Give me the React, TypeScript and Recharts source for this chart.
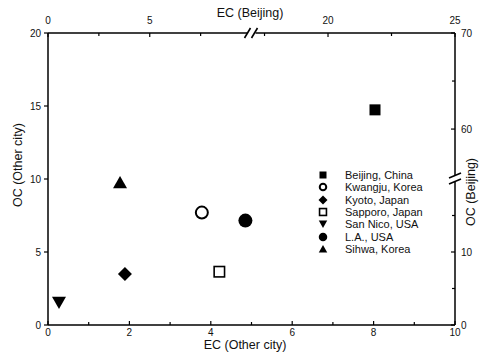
import React from 'react';
import { ScatterChart, Scatter, XAxis, YAxis, Legend, ReferenceDot } from 'recharts';

const FONT = '"Liberation Sans", Arial, sans-serif';

// other cities, read on the bottom / left axes
const cities = ['Kwangju, Korea', 'Kyoto, Japan', 'Sapporo, Japan', 'San Nico, USA', 'L.A., USA', 'Sihwa, Korea'];
const ecOther = [3.78, 1.89, 4.21, 0.27, 4.85, 1.77];
const ocOther = [7.7, 3.5, 3.65, 1.55, 7.15, 9.75];
const cityMarkers = ['openCircle', 'diamond', 'openSquare', 'triangleDown', 'circle', 'triangle'];

// Beijing, read on the top / right (broken) axes
const beijingName = 'Beijing, China';
const ecBeijing = [21.85];
const ocBeijing = [62.0];

const bottomTicks = [0, 1, 2, 3, 4, 5, 6, 7, 8, 9, 10];
const leftTicks = [0, 5, 10, 15, 20];
const topTicks = [0, 2.5, 5, 7.5, 17.5, 20, 22.5, 25];
const topLabels = ['0', '', '5', '', '', '20', '', '25'];
const rightTicks = [0, 5, 10, 15, 60, 65, 70];
const rightLabels = ['0', '', '10', '', '60', '', '70'];

// the Beijing axes are broken: each side of the break has its own scale
const topToPlot = (b: number) => (b <= 10 ? b / 2 : 10 - (25 - b) * 0.624);
const rightToPlot = (r: number) => (r <= 20 ? r / 2 : 20 - (70 - r) * 0.658);

function Marker({ kind, cx, cy, s }: { kind: string; cx: number; cy: number; s: number }) {
  const h = s / 2;
  switch (kind) {
    case 'square':
      return <rect x={cx - h} y={cy - h} width={s} height={s} fill="#000" />;
    case 'openSquare':
      return <rect x={cx - h + 0.8} y={cy - h + 0.8} width={s - 1.6} height={s - 1.6} fill="#fff" stroke="#000" strokeWidth={1.6} />;
    case 'circle':
      return <circle cx={cx} cy={cy} r={h} fill="#000" />;
    case 'openCircle':
      return <circle cx={cx} cy={cy} r={h - 1} fill="#fff" stroke="#000" strokeWidth={2} />;
    case 'diamond':
      return <polygon points={`${cx},${cy - h} ${cx + h},${cy} ${cx},${cy + h} ${cx - h},${cy}`} fill="#000" />;
    case 'triangle':
      return <polygon points={`${cx},${cy - h * 0.95} ${cx + h},${cy + h * 0.8} ${cx - h},${cy + h * 0.8}`} fill="#000" />;
    case 'triangleDown':
      return <polygon points={`${cx},${cy + h * 0.95} ${cx + h},${cy - h * 0.8} ${cx - h},${cy - h * 0.8}`} fill="#000" />;
    default:
      return null;
  }
}

const tickText = { fontFamily: FONT, fontSize: 10, fill: '#111' };
const titleText = { fontFamily: FONT, fontSize: 12.5, fill: '#111' };

function BottomTick({ x, y, payload }: any) {
  const major = payload.value % 2 === 0;
  return (
    <g>
      <line x1={x} x2={x} y1={y} y2={y - (major ? 4 : 3)} stroke="#000" strokeWidth={1.2} />
      {major && (
        <text x={x} y={y + 11} textAnchor="middle" {...tickText}>
          {payload.value}
        </text>
      )}
    </g>
  );
}

function LeftTick({ x, y, payload }: any) {
  return (
    <g>
      <line x1={x - 4} x2={x} y1={y} y2={y} stroke="#000" strokeWidth={1.2} />
      <text x={x - 7} y={y} dy="0.35em" textAnchor="end" {...tickText}>
        {payload.value}
      </text>
    </g>
  );
}

function TopTick({ x, y, index }: any) {
  const label = topLabels[index];
  return (
    <g>
      <line x1={x} x2={x} y1={y} y2={y + (label ? 4 : 3)} stroke="#000" strokeWidth={1.2} />
      {label && (
        <text x={x} y={y - 9} textAnchor="middle" {...tickText}>
          {label}
        </text>
      )}
    </g>
  );
}

function RightTick({ x, y, index }: any) {
  const label = rightLabels[index];
  return (
    <g>
      <line x1={x} x2={x - (label ? 4 : 3)} y1={y} y2={y} stroke="#000" strokeWidth={1.2} />
      {label && (
        <text x={x + 6} y={y} dy="0.35em" textAnchor="start" {...tickText}>
          {label}
        </text>
      )}
    </g>
  );
}

function TopBreak({ cx, cy }: any) {
  return (
    <g>
      <rect x={cx - 4} y={cy - 2} width={8} height={4} fill="#fff" />
      <line x1={cx - 7} y1={cy + 5} x2={cx - 1} y2={cy - 5} stroke="#000" strokeWidth={1.6} />
      <line x1={cx} y1={cy + 5} x2={cx + 6} y2={cy - 5} stroke="#000" strokeWidth={1.6} />
    </g>
  );
}

function RightBreak({ cx, cy }: any) {
  return (
    <g>
      <rect x={cx - 2} y={cy - 3} width={4} height={6} fill="#fff" />
      <line x1={cx - 6} y1={cy - 1} x2={cx + 6} y2={cy - 6} stroke="#000" strokeWidth={1.6} />
      <line x1={cx - 6} y1={cy + 5} x2={cx + 6} y2={cy} stroke="#000" strokeWidth={1.6} />
    </g>
  );
}

const legendItems = [
  { name: beijingName, kind: 'square', s: 7 },
  ...cities.map((name, i) => ({ name, kind: cityMarkers[i], s: i === 1 ? 9 : 8.5 })),
];

function renderLegend() {
  return (
    <div style={{ fontFamily: FONT, fontSize: 11, lineHeight: '12px', color: '#111' }}>
      {legendItems.map((it) => (
        <div key={it.name} style={{ display: 'flex', alignItems: 'center', height: 12.3, whiteSpace: 'nowrap' }}>
          <svg width={14} height={12} style={{ flex: 'none' }}>
            <Marker kind={it.kind} cx={7} cy={6} s={it.s} />
          </svg>
          <span style={{ marginLeft: 15, lineHeight: '12px' }}>{it.name}</span>
        </div>
      ))}
    </div>
  );
}

const axisLine = { stroke: '#000', strokeWidth: 1.5 };

export default function App() {
  const beijingData = ecBeijing.map((ec, i) => ({ x: topToPlot(ec), y: rightToPlot(ocBeijing[i]) }));

  return (
    <div style={{ position: 'absolute', left: 0, top: 0, width: 481, height: 362, background: '#fff' }}>
      <ScatterChart width={481} height={362} margin={{ top: 0, right: 0, bottom: 0, left: 0 }}>
        <XAxis
          xAxisId="bottom"
          type="number"
          dataKey="x"
          domain={[0, 10]}
          ticks={bottomTicks}
          interval={0}
          tickSize={0}
          tickMargin={0}
          tickLine={false}
          tick={(p: any) => <BottomTick {...p} />}
          axisLine={axisLine}
          height={37}
          allowDataOverflow
          label={() => (
            <text x={245} y={349} textAnchor="middle" {...titleText}>
              EC (Other city)
            </text>
          )}
        />
        <XAxis
          xAxisId="top"
          orientation="top"
          type="number"
          dataKey="x"
          domain={[0, 10]}
          ticks={topTicks.map(topToPlot)}
          interval={0}
          tickSize={0}
          tickMargin={0}
          tickLine={false}
          tick={(p: any) => <TopTick {...p} />}
          axisLine={axisLine}
          height={33}
          allowDataOverflow
          label={() => (
            <text x={250} y={17} textAnchor="middle" {...titleText}>
              EC (Beijing)
            </text>
          )}
        />
        <YAxis
          yAxisId="left"
          type="number"
          dataKey="y"
          domain={[0, 20]}
          ticks={leftTicks}
          interval={0}
          tickSize={0}
          tickMargin={0}
          tickLine={false}
          tick={(p: any) => <LeftTick {...p} />}
          axisLine={axisLine}
          width={48}
          allowDataOverflow
          label={() => (
            <text x={18} y={165} textAnchor="middle" dominantBaseline="central" transform="rotate(-90 18 165)" {...titleText}>
              OC (Other city)
            </text>
          )}
        />
        <YAxis
          yAxisId="right"
          orientation="right"
          type="number"
          dataKey="y"
          domain={[0, 20]}
          ticks={rightTicks.map(rightToPlot)}
          interval={0}
          tickSize={0}
          tickMargin={0}
          tickLine={false}
          tick={(p: any) => <RightTick {...p} />}
          axisLine={axisLine}
          width={26}
          allowDataOverflow
          label={() => (
            <text x={471} y={192} textAnchor="middle" dominantBaseline="central" transform="rotate(-90 471 192)" {...titleText}>
              OC (Beijing)
            </text>
          )}
        />

        <ReferenceDot xAxisId="top" yAxisId="right" x={5} y={20} ifOverflow="visible" shape={(p: any) => <TopBreak {...p} />} />
        <ReferenceDot xAxisId="top" yAxisId="right" x={10} y={10} ifOverflow="visible" shape={(p: any) => <RightBreak {...p} />} />

        <Scatter
          name={beijingName}
          xAxisId="top"
          yAxisId="right"
          data={beijingData}
          isAnimationActive={false}
          shape={(p: any) => <Marker kind="square" cx={p.cx} cy={p.cy} s={11} />}
        />
        {cities.map((name, i) => (
          <Scatter
            key={name}
            name={name}
            xAxisId="bottom"
            yAxisId="left"
            data={[{ x: ecOther[i], y: ocOther[i] }]}
            isAnimationActive={false}
            shape={(p: any) => <Marker kind={cityMarkers[i]} cx={p.cx} cy={p.cy} s={cityMarkers[i] === 'openSquare' ? 12 : 14} />}
          />
        ))}

        <Legend
          layout="vertical"
          align="center"
          verticalAlign="middle"
          content={renderLegend}
          wrapperStyle={{ left: 316, top: 169, width: 150 }}
        />
      </ScatterChart>
    </div>
  );
}
